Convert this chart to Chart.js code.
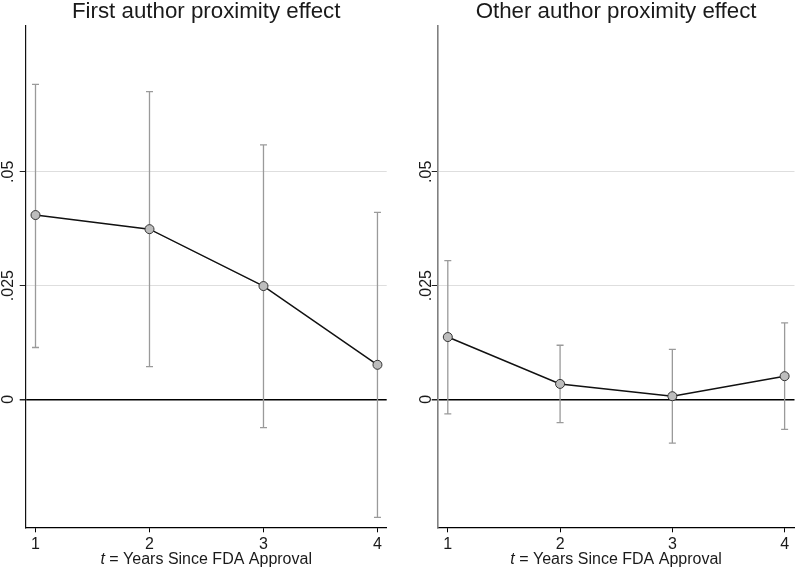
<!DOCTYPE html>
<html>
<head>
<meta charset="utf-8">
<script src="https://cdn.jsdelivr.net/npm/chart.js"></script>
<style>
  body { margin: 0; background: #fff; }
  .panel { position: absolute; top: 0; width: 400px; height: 569px; }
  #leftPanel { left: 0; }
  #rightPanel { left: 400px; }
</style>
</head>
<body>
<div class="panel" id="leftPanel"><canvas id="firstChart" width="400" height="569"></canvas></div>
<div class="panel" id="rightPanel"><canvas id="otherChart" width="400" height="569"></canvas></div>
<script>
// ----------- Data ----------------- //
const years = [1, 2, 3, 4];

const firstEffect = [0.0405, 0.0374, 0.0249, 0.0076];
const firstLow    = [0.0114, 0.0072, -0.0062, -0.0259];
const firstHigh   = [0.0692, 0.0676, 0.0559, 0.0411];

const otherEffect = [0.0137, 0.0034, 0.0007, 0.0051];
const otherLow    = [-0.0032, -0.0051, -0.0096, -0.0066];
const otherHigh   = [0.0305, 0.0119, 0.0110, 0.0168];

const yTicks = [0, 0.025, 0.05];
const yTickLabels = ["0", ".025", ".05"];
const xTitleItalic = "t";
const xTitleRest = " = Years Since FDA Approval";

const FONT = "'Liberation Sans', Arial, Helvetica, sans-serif";
const TEXT = "#1a1a1a";

// error bars, drawn under the line and markers
const errorBars = {
    id: "errorBars",
    beforeDatasetsDraw(chart, args, opts) {
        const ctx = chart.ctx;
        const xs = chart.scales.x, ys = chart.scales.y;
        ctx.save();
        ctx.strokeStyle = "#9a9a9a";
        ctx.lineWidth = 1.3;
        years.forEach((t, i) => {
            const x = xs.getPixelForValue(t);
            const y1 = ys.getPixelForValue(opts.low[i]);
            const y2 = ys.getPixelForValue(opts.high[i]);
            ctx.beginPath();
            ctx.moveTo(x, y1); ctx.lineTo(x, y2);
            ctx.moveTo(x - 3.5, y1); ctx.lineTo(x + 3.5, y1);
            ctx.moveTo(x - 3.5, y2); ctx.lineTo(x + 3.5, y2);
            ctx.stroke();
        });
        ctx.restore();
    }
};

// rotated y labels and the x axis title with italic t
const axisText = {
    id: "axisText",
    afterDraw(chart, args, opts) {
        const ctx = chart.ctx;
        const ys = chart.scales.y;
        const area = chart.chartArea;
        ctx.save();
        ctx.fillStyle = TEXT;
        ctx.font = "16px " + FONT;
        ctx.textAlign = "center";
        ctx.textBaseline = "middle";
        yTicks.forEach((v, i) => {
            ctx.save();
            ctx.translate(opts.labelX, ys.getPixelForValue(v));
            ctx.rotate(-Math.PI / 2);
            ctx.fillText(yTickLabels[i], 0, 0);
            ctx.restore();
        });

        ctx.textAlign = "left";
        ctx.font = "italic 16px " + FONT;
        const w1 = ctx.measureText(xTitleItalic).width;
        ctx.font = "16px " + FONT;
        const w2 = ctx.measureText(xTitleRest).width;
        let x = (area.left + area.right) / 2 - (w1 + w2) / 2;
        ctx.font = "italic 16px " + FONT;
        ctx.fillText(xTitleItalic, x, 560);
        ctx.font = "16px " + FONT;
        ctx.fillText(xTitleRest, x + w1, 560);
        ctx.restore();
    }
};

const makePanel = (canvasId, title, effect, low, high, cfg) => {
    new Chart(document.getElementById(canvasId), {
        type: "line",
        data: {
            datasets: [{
                data: years.map((t, i) => ({ x: t, y: effect[i] })),
                borderColor: "#111",
                borderWidth: 1.5,
                pointRadius: 4.5,
                pointBackgroundColor: "#bdbdbd",
                pointBorderColor: "#333",
                pointBorderWidth: 1,
                tension: 0
            }]
        },
        options: {
            responsive: false,
            animation: false,
            devicePixelRatio: 1,
            layout: { padding: { left: 0, right: cfg.padRight, top: 0, bottom: 0 } },
            plugins: {
                legend: { display: false },
                tooltip: { enabled: false },
                title: {
                    display: true,
                    text: title,
                    fullSize: false,
                    color: TEXT,
                    font: { family: FONT, size: 22.3, weight: "normal", lineHeight: 1.04 },
                    padding: { top: 0, bottom: 2.5 }
                },
                errorBars: { low: low, high: high },
                axisText: { labelX: cfg.labelX }
            },
            scales: {
                x: {
                    type: "linear",
                    min: cfg.xMin,
                    max: cfg.xMax,
                    afterBuildTicks: (s) => { s.ticks = years.map(v => ({ value: v })); },
                    afterFit: (s) => { s.height = 41.7; },
                    ticks: {
                        color: TEXT,
                        font: { family: FONT, size: 16 },
                        padding: 2.5,
                        maxRotation: 0,
                        callback: (v) => String(v)
                    },
                    grid: { drawOnChartArea: false, drawTicks: true, tickLength: 5, tickColor: "#000" },
                    border: { color: "#000", width: 1.2 }
                },
                y: {
                    type: "linear",
                    min: -0.0281,
                    max: 0.0821,
                    afterBuildTicks: (s) => { s.ticks = yTicks.map(v => ({ value: v })); },
                    afterFit: (s) => { s.width = cfg.axisX; },
                    ticks: { display: false },
                    grid: {
                        drawTicks: true,
                        tickLength: 6,
                        color: (c) => c.tick && c.tick.value === 0 ? "#000" : "#dedede",
                        lineWidth: (c) => c.tick && c.tick.value === 0 ? 1.5 : 1,
                        tickColor: "#222"
                    },
                    border: { color: cfg.yAxisColor, width: cfg.yAxisWidth }
                }
            }
        },
        plugins: [errorBars, axisText]
    });
};

// ----------- Panels ----------------- //
makePanel("firstChart", "First author proximity effect", firstEffect, firstLow, firstHigh,
    { axisX: 25.7, padRight: 13.3, xMin: 0.914, xMax: 4.081, labelX: 8.5, yAxisColor: "#111", yAxisWidth: 1.2 });

makePanel("otherChart", "Other author proximity effect", otherEffect, otherLow, otherHigh,
    { axisX: 37.7, padRight: 0, xMin: 0.91, xMax: 4.088, labelX: 26.5, yAxisColor: "#808080", yAxisWidth: 1.6 });
</script>
</body>
</html>
